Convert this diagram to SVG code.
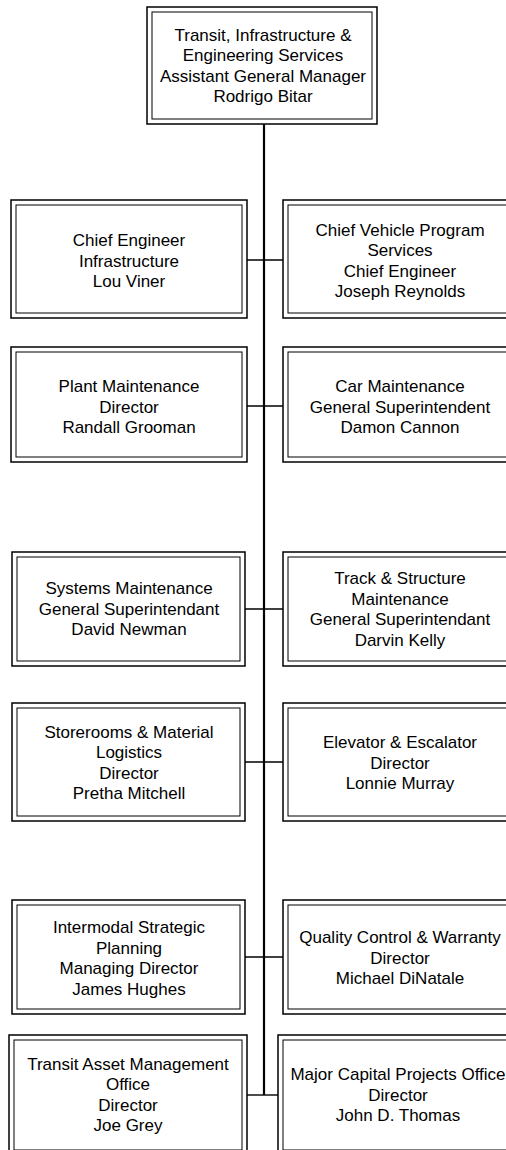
<svg xmlns="http://www.w3.org/2000/svg" width="506" height="1150" viewBox="0 0 506 1150">
  <style>
    .outer { fill: #ffffff; stroke: #000000; stroke-width: 1.5; }
    .inner { fill: #ffffff; stroke: #000000; stroke-width: 1; }
    .label { font-family: "Liberation Sans", Arial, sans-serif; font-size: 17px; fill: #000000; text-anchor: middle; }
    .trunk { stroke: #000000; stroke-width: 2.2; fill: none; }
    .branch { stroke: #000000; stroke-width: 1.4; fill: none; }
  </style>
  <rect width="506" height="1150" fill="#ffffff"/>

  <!-- connectors -->
  <g id="connectors">
    <line class="trunk" x1="264" y1="124" x2="264" y2="1095"/>
    <line class="branch" x1="247" y1="260" x2="283" y2="260"/>
    <line class="branch" x1="247" y1="406" x2="283" y2="406"/>
    <line class="branch" x1="245" y1="609" x2="283" y2="609"/>
    <line class="branch" x1="245" y1="762" x2="283" y2="762"/>
    <line class="branch" x1="245" y1="957" x2="283" y2="957"/>
    <line class="branch" x1="247" y1="1095" x2="278" y2="1095"/>
  </g>

  <!-- top -->
  <g id="agm">
    <rect class="outer" x="147" y="7" width="230" height="117"/>
    <rect class="inner" x="152" y="12" width="220" height="107"/>
    <text class="label" x="263" y="40.5">Transit, Infrastructure &amp;</text>
    <text class="label" x="263" y="61">Engineering Services</text>
    <text class="label" x="263" y="81.5">Assistant General Manager</text>
    <text class="label" x="263" y="102">Rodrigo Bitar</text>
  </g>

  <!-- row 1 -->
  <g id="chief-engineer-infrastructure">
    <rect class="outer" x="11" y="200" width="236" height="118"/>
    <rect class="inner" x="16" y="205" width="226" height="108"/>
    <text class="label" x="129" y="246">Chief Engineer</text>
    <text class="label" x="129" y="266.5">Infrastructure</text>
    <text class="label" x="129" y="287">Lou Viner</text>
  </g>
  <g id="chief-vehicle-program">
    <rect class="outer" x="283" y="200" width="234" height="118"/>
    <rect class="inner" x="288" y="205" width="224" height="108"/>
    <text class="label" x="400" y="235.5">Chief Vehicle Program</text>
    <text class="label" x="400" y="256">Services</text>
    <text class="label" x="400" y="276.5">Chief Engineer</text>
    <text class="label" x="400" y="297">Joseph Reynolds</text>
  </g>

  <!-- row 2 -->
  <g id="plant-maintenance">
    <rect class="outer" x="11" y="347" width="236" height="115"/>
    <rect class="inner" x="16" y="352" width="226" height="105"/>
    <text class="label" x="129" y="392">Plant Maintenance</text>
    <text class="label" x="129" y="412.5">Director</text>
    <text class="label" x="129" y="433">Randall Grooman</text>
  </g>
  <g id="car-maintenance">
    <rect class="outer" x="283" y="347" width="234" height="115"/>
    <rect class="inner" x="288" y="352" width="224" height="105"/>
    <text class="label" x="400" y="392">Car Maintenance</text>
    <text class="label" x="400" y="412.5">General Superintendent</text>
    <text class="label" x="400" y="433">Damon Cannon</text>
  </g>

  <!-- row 3 -->
  <g id="systems-maintenance">
    <rect class="outer" x="12" y="552" width="233" height="114"/>
    <rect class="inner" x="17" y="557" width="223" height="104"/>
    <text class="label" x="129" y="594">Systems Maintenance</text>
    <text class="label" x="129" y="614.5">General Superintendant</text>
    <text class="label" x="129" y="635">David Newman</text>
  </g>
  <g id="track-structure">
    <rect class="outer" x="283" y="552" width="234" height="114"/>
    <rect class="inner" x="288" y="557" width="224" height="104"/>
    <text class="label" x="400" y="584">Track &amp; Structure</text>
    <text class="label" x="400" y="604.5">Maintenance</text>
    <text class="label" x="400" y="625">General Superintendant</text>
    <text class="label" x="400" y="645.5">Darvin Kelly</text>
  </g>

  <!-- row 4 -->
  <g id="storerooms">
    <rect class="outer" x="12" y="703" width="233" height="118"/>
    <rect class="inner" x="17" y="708" width="223" height="108"/>
    <text class="label" x="129" y="737.5">Storerooms &amp; Material</text>
    <text class="label" x="129" y="758">Logistics</text>
    <text class="label" x="129" y="778.5">Director</text>
    <text class="label" x="129" y="799">Pretha Mitchell</text>
  </g>
  <g id="elevator-escalator">
    <rect class="outer" x="283" y="703" width="234" height="118"/>
    <rect class="inner" x="288" y="708" width="224" height="108"/>
    <text class="label" x="400" y="748">Elevator &amp; Escalator</text>
    <text class="label" x="400" y="768.5">Director</text>
    <text class="label" x="400" y="789">Lonnie Murray</text>
  </g>

  <!-- row 5 -->
  <g id="intermodal-planning">
    <rect class="outer" x="12" y="900" width="233" height="114"/>
    <rect class="inner" x="17" y="905" width="223" height="104"/>
    <text class="label" x="129" y="933">Intermodal Strategic</text>
    <text class="label" x="129" y="953.5">Planning</text>
    <text class="label" x="129" y="974">Managing Director</text>
    <text class="label" x="129" y="994.5">James Hughes</text>
  </g>
  <g id="quality-control">
    <rect class="outer" x="283" y="900" width="234" height="114"/>
    <rect class="inner" x="288" y="905" width="224" height="104"/>
    <text class="label" x="400" y="943">Quality Control &amp; Warranty</text>
    <text class="label" x="400" y="963.5">Director</text>
    <text class="label" x="400" y="984">Michael DiNatale</text>
  </g>

  <!-- row 6 -->
  <g id="transit-asset-management">
    <rect class="outer" x="9" y="1035" width="238" height="120"/>
    <rect class="inner" x="14" y="1040" width="228" height="110"/>
    <text class="label" x="128" y="1069.5">Transit Asset Management</text>
    <text class="label" x="128" y="1090">Office</text>
    <text class="label" x="128" y="1110.5">Director</text>
    <text class="label" x="128" y="1131">Joe Grey</text>
  </g>
  <g id="major-capital-projects">
    <rect class="outer" x="278" y="1035" width="240" height="120"/>
    <rect class="inner" x="283" y="1040" width="230" height="110"/>
    <text class="label" x="398" y="1080">Major Capital Projects Office</text>
    <text class="label" x="398" y="1100.5">Director</text>
    <text class="label" x="398" y="1121">John D. Thomas</text>
  </g>
</svg>
